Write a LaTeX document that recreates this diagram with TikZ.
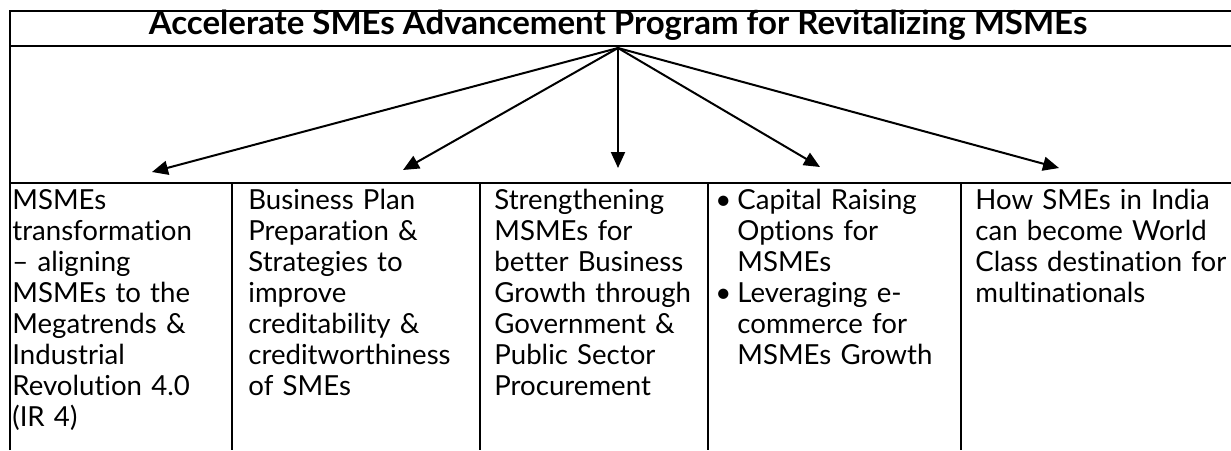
\documentclass[tikz,border=0pt]{standalone}
\usepackage{fontspec}
\setmainfont{Lato}[Ligatures=NoCommon]
\usetikzlibrary{arrows.meta}
\begin{document}
\begin{tikzpicture}[x=0.5pt,y=-0.5pt,
  frame/.style={line width=1pt},
  cell/.style={anchor=base west, inner sep=0pt, text width=140pt, align=left,
    font=\fontsize{13.8}{15.5}\selectfont},
  titletext/.style={inner sep=0pt, font=\fontsize{16.5}{18}\selectfont\bfseries},
  arr/.style={line width=1pt, -{Triangle[length=8pt,width=7pt]}}]
\useasboundingbox (0,0) rectangle (1231,450);
% frame
\draw[frame] (10,450) -- (10,11) -- (1231,11);
\draw[frame] (10,46) -- (1231,46);
\draw[frame] (10,183) -- (1231,183);
\foreach \xx in {232,480,708,961} \draw[frame] (\xx,183) -- (\xx,450);
% title
\node[titletext, anchor=base] (title) at (618,34) {Accelerate SMEs Advancement Program for Revitalizing MSMEs};
\coordinate (src) at (618,48);
\coordinate (t1) at (152,172);
\coordinate (t2) at (403,170);
\coordinate (t3) at (618,168);
\coordinate (t4) at (820,167);
\coordinate (t5) at (1059,168);
\foreach \t in {t1,t2,t3,t4,t5} \draw[arr] (src) -- (\t);
% cells
\node[cell] (c1) at (12,209) {MSMEs\\transformation\\– aligning\\MSMEs to the\\Megatrends \&\\Industrial\\Revolution 4.0\\(IR 4)};
\node[cell] (c2) at (248,209) {Business Plan\\Preparation \&\\Strategies to\\improve\\creditability \&\\creditworthiness\\of SMEs};
\node[cell] (c3) at (494,209) {Strengthening\\MSMEs for\\better Business\\Growth through\\Government \&\\Public Sector\\Procurement};
\node[cell] (c4) at (737,209) {\leavevmode\llap{\textbullet\hspace{3pt}}Capital Raising\\Options for\\MSMEs\\\leavevmode\llap{\textbullet\hspace{3pt}}Leveraging e-\\commerce for\\MSMEs Growth};
\node[cell] (c5) at (975,209) {How SMEs in India\\can become World\\Class destination for\\multinationals};
\end{tikzpicture}
\end{document}
